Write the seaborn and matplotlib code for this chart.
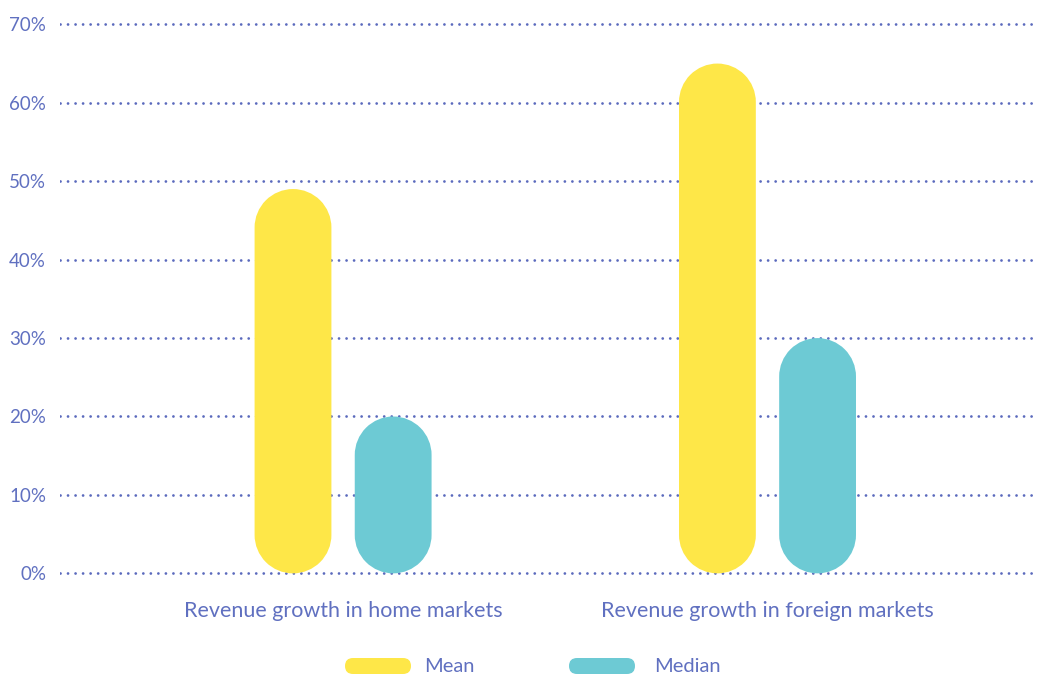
import matplotlib
matplotlib.use("Agg")
import matplotlib.pyplot as plt
from matplotlib.patches import FancyBboxPatch, PathPatch
from matplotlib.path import Path
from matplotlib.transforms import IdentityTransform
import numpy as np
import pandas as pd
import seaborn as sns

# Data
categories = ["Revenue growth in home markets", "Revenue growth in foreign markets"]
series_names = ["Mean", "Median"]
mean_values = [49, 65]
median_values = [20, 30]
y_ticks = [0, 10, 20, 30, 40, 50, 60, 70]
y_tick_labels = [f"{v}%" for v in y_ticks]

# Styling
bar_colors = {"Mean": "#FEE748", "Median": "#6DCAD4"}
text_color = "#6070C0"
grid_color = "#5B6ABD"

df = pd.DataFrame({
    "category": categories * 2,
    "stat": [series_names[0]] * len(categories) + [series_names[1]] * len(categories),
    "value": mean_values + median_values,
})

sns.set_theme(style="white")
plt.rcParams["font.family"] = ["Lato", "DejaVu Sans"]

W, H, DPI = 1040, 675, 100
fig = plt.figure(figsize=(W / DPI, H / DPI), dpi=DPI)
ax = fig.add_axes([60 / W, 1 - 581.2 / H, 977 / W, 564.7 / H])

sns.barplot(data=df, x="category", y="value", hue="stat", order=categories,
            hue_order=series_names, palette=bar_colors, saturation=1,
            width=0.472, gap=0.233, legend=False, ax=ax)

ax.set_xlim(-0.667, 1.635)
ax.set_ylim(-1, 71)


def pill_path(x, y, w, h, ry):
    """Vertical capsule from y to y+h with semicircular ends (radii w/2, ry in data units)."""
    rx = w / 2
    cx = x + rx
    top = Path.arc(0, 180)
    bot = Path.arc(180, 360)
    tv = top.vertices * [rx, ry] + [cx, y + h - ry]
    bv = bot.vertices * [rx, ry] + [cx, y + ry]
    verts = np.vstack([tv, bv, tv[:1]])
    codes = np.concatenate([top.codes, bot.codes, [Path.CLOSEPOLY]])
    codes[len(top.codes)] = Path.LINETO
    return Path(verts, codes)


# Replace the rectangular bars with pill-shaped ones (fully rounded ends)
px_per_x = ax.bbox.width / (ax.get_xlim()[1] - ax.get_xlim()[0])
px_per_y = ax.bbox.height / (ax.get_ylim()[1] - ax.get_ylim()[0])
for bar in list(ax.patches):
    x, y, w, h = bar.get_x(), bar.get_y(), bar.get_width(), bar.get_height()
    if h <= 0:
        continue
    ry = (w / 2) * px_per_x / px_per_y
    pill = PathPatch(pill_path(x, y, w, h, ry), facecolor=bar.get_facecolor(),
                     edgecolor="none", zorder=3)
    bar.remove()
    ax.add_patch(pill)

# Dotted horizontal grid
ax.set_yticks(y_ticks)
ax.set_yticklabels(y_tick_labels)
ax.yaxis.grid(True, color=grid_color, linestyle=(0, (0.01, 2.7)), linewidth=2.0,
              dash_capstyle="round")
ax.xaxis.grid(False)
ax.set_axisbelow(True)
for s in ax.spines.values():
    s.set_visible(False)

ax.tick_params(axis="y", length=0, pad=10, labelsize=13.5, labelcolor=text_color)
ax.tick_params(axis="x", length=0, pad=14, labelsize=15.5, labelcolor=text_color)
ax.set_xlabel("")
ax.set_ylabel("")

# Legend with pill swatches, placed in pixel coordinates
legend_items = [(series_names[0], 345, 424), (series_names[1], 569, 654)]
for name, sx, tx in legend_items:
    sw = FancyBboxPatch((sx, 1), 66, 16, boxstyle="round,pad=0,rounding_size=8",
                        facecolor=bar_colors[name], edgecolor="none",
                        transform=IdentityTransform())
    fig.add_artist(sw)
    fig.text(tx / W, 9 / H, name, color=text_color, fontsize=14.5,
             ha="left", va="center")

fig.savefig("out.png", dpi=DPI)
